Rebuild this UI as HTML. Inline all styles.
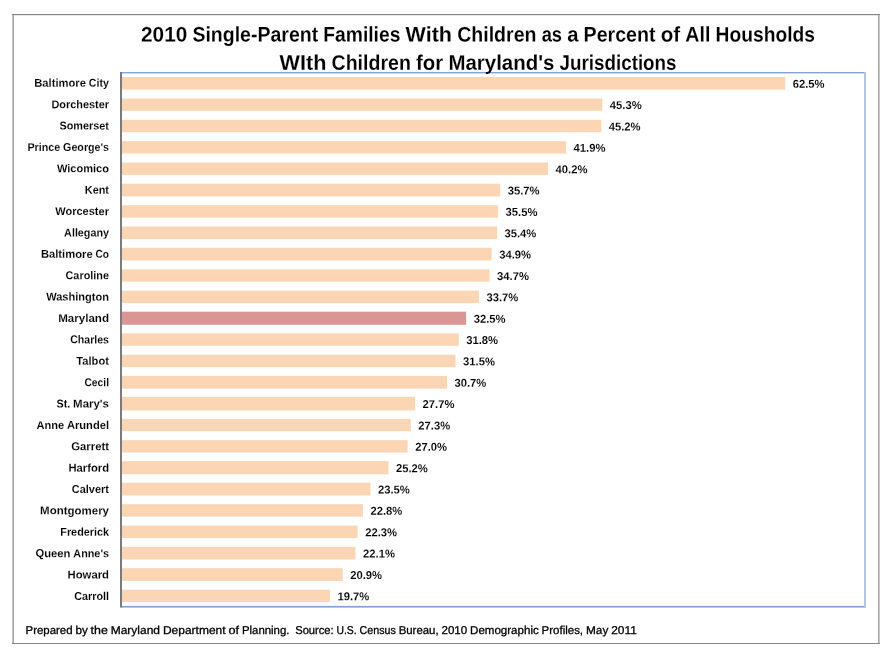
<!DOCTYPE html>
<html lang="en"><head><meta charset="utf-8"><title>2010 Single-Parent Families With Children</title>
<style>
html,body{margin:0;padding:0;background:#fff}
svg{display:block}
svg .ttl text{stroke:#fff;stroke-width:.25px}
svg .lab text{stroke:#fff;stroke-width:.1px}
svg .ftr text{stroke:#000;stroke-width:.3px}
svg text{font-family:"Liberation Sans",sans-serif;fill:#000;white-space:pre;text-rendering:geometricPrecision}
</style></head><body>
<svg width="892" height="652" viewBox="0 0 892 652" role="img" aria-label="Bar chart">
<rect x="0" y="0" width="892" height="652" fill="#fff"/>
<rect x="12" y="14" width="1" height="630" fill="#c4c4c4"/><rect x="13" y="14" width="1" height="630" fill="#a8a8a8"/><rect x="878" y="14" width="1" height="630" fill="#a8a8a8"/><rect x="879" y="14" width="1" height="630" fill="#c8c8c8"/><rect x="14" y="15" width="864" height="1" fill="#e8e8e8"/><rect x="12" y="14" width="868" height="1" fill="#868686"/><rect x="12" y="643" width="868" height="1" fill="#868686"/>
<rect x="121" y="76.98" width="664.24" height="12.6" fill="#fcd5b5"/>
<rect x="121" y="98.49" width="481.29" height="12.3" fill="#fcd5b5"/>
<rect x="121" y="119.80" width="480.22" height="12.4" fill="#fcd5b5"/>
<rect x="121" y="141.20" width="445.12" height="12.3" fill="#fcd5b5"/>
<rect x="121" y="162.51" width="427.04" height="12.4" fill="#fcd5b5"/>
<rect x="121" y="183.72" width="379.17" height="12.7" fill="#fcd5b5"/>
<rect x="121" y="205.23" width="377.04" height="12.4" fill="#fcd5b5"/>
<rect x="121" y="226.44" width="375.98" height="12.7" fill="#fcd5b5"/>
<rect x="121" y="247.79" width="370.66" height="12.7" fill="#fcd5b5"/>
<rect x="121" y="269.40" width="368.53" height="12.2" fill="#fcd5b5"/>
<rect x="121" y="290.66" width="357.90" height="12.4" fill="#fcd5b5"/>
<rect x="121" y="311.67" width="345.13" height="13.1" fill="#d99694"/>
<rect x="121" y="333.37" width="337.69" height="12.4" fill="#fcd5b5"/>
<rect x="121" y="354.73" width="334.50" height="12.4" fill="#fcd5b5"/>
<rect x="121" y="375.89" width="325.99" height="12.8" fill="#fcd5b5"/>
<rect x="121" y="396.80" width="294.07" height="13.7" fill="#fcd5b5"/>
<rect x="121" y="418.86" width="289.82" height="12.3" fill="#fcd5b5"/>
<rect x="121" y="440.17" width="286.63" height="12.4" fill="#fcd5b5"/>
<rect x="121" y="461.17" width="267.48" height="13.1" fill="#fcd5b5"/>
<rect x="121" y="482.73" width="249.40" height="12.7" fill="#fcd5b5"/>
<rect x="121" y="504.19" width="241.95" height="12.5" fill="#fcd5b5"/>
<rect x="121" y="525.60" width="236.64" height="12.4" fill="#fcd5b5"/>
<rect x="121" y="546.80" width="234.51" height="12.7" fill="#fcd5b5"/>
<rect x="121" y="568.16" width="221.74" height="12.7" fill="#fcd5b5"/>
<rect x="121" y="589.67" width="208.98" height="12.4" fill="#fcd5b5"/>
<rect x="121" y="72" width="745" height="1.4" fill="#86a2cf"/>
<rect x="121" y="605.9" width="745" height="1.7" fill="#86a2cf"/>
<rect x="864" y="72" width="2" height="535.6" fill="#b4c5e2"/>
<rect x="120" y="72" width="2" height="535.5" fill="#7b7b7b"/>
<g class="lab">
<g transform="matrix(1 0.0003 0 1 0 0)">
<text font-size="11.41" font-weight="bold" transform="matrix(1 .001 0 1 0 0)"><tspan x="34.19" y="86.77" textLength="51.75" lengthAdjust="spacingAndGlyphs">Baltimore</tspan> <tspan x="88.80" y="86.73" textLength="20.20" lengthAdjust="spacingAndGlyphs">City</tspan></text>
<text x="792.74" y="86.77" font-size="11.41" font-weight="bold" transform="matrix(1 .001 0 1 0 0)" textLength="31.89" lengthAdjust="spacingAndGlyphs">62.5%</text>
<text x="51.38" y="108.13" font-size="11.41" font-weight="bold" transform="matrix(1 .001 0 1 0 0)" textLength="57.62" lengthAdjust="spacingAndGlyphs">Dorchester</text>
<text x="609.79" y="108.31" font-size="11.41" font-weight="bold" transform="matrix(1 .001 0 1 0 0)" textLength="31.89" lengthAdjust="spacingAndGlyphs">45.3%</text>
<text x="59.44" y="129.50" font-size="11.41" font-weight="bold" transform="matrix(1 .001 0 1 0 0)" textLength="49.56" lengthAdjust="spacingAndGlyphs">Somerset</text>
<text x="608.72" y="129.67" font-size="11.41" font-weight="bold" transform="matrix(1 .001 0 1 0 0)" textLength="31.89" lengthAdjust="spacingAndGlyphs">45.2%</text>
<text font-size="11.41" font-weight="bold" transform="matrix(1 .001 0 1 0 0)"><tspan x="27.44" y="150.92" textLength="32.83" lengthAdjust="spacingAndGlyphs">Prince</tspan> <tspan x="63.12" y="150.88" textLength="45.88" lengthAdjust="spacingAndGlyphs">George's</tspan></text>
<text x="573.62" y="151.06" font-size="11.41" font-weight="bold" transform="matrix(1 .001 0 1 0 0)" textLength="31.89" lengthAdjust="spacingAndGlyphs">41.9%</text>
<text x="56.89" y="172.26" font-size="11.41" font-weight="bold" transform="matrix(1 .001 0 1 0 0)" textLength="52.11" lengthAdjust="spacingAndGlyphs">Wicomico</text>
<text x="555.54" y="172.44" font-size="11.41" font-weight="bold" transform="matrix(1 .001 0 1 0 0)" textLength="31.89" lengthAdjust="spacingAndGlyphs">40.2%</text>
<text x="84.86" y="193.62" font-size="11.41" font-weight="bold" transform="matrix(1 .001 0 1 0 0)" textLength="24.14" lengthAdjust="spacingAndGlyphs">Kent</text>
<text x="507.67" y="193.85" font-size="11.41" font-weight="bold" transform="matrix(1 .001 0 1 0 0)" textLength="31.89" lengthAdjust="spacingAndGlyphs">35.7%</text>
<text x="55.17" y="215.01" font-size="11.41" font-weight="bold" transform="matrix(1 .001 0 1 0 0)" textLength="53.83" lengthAdjust="spacingAndGlyphs">Worcester</text>
<text x="505.54" y="215.21" font-size="11.41" font-weight="bold" transform="matrix(1 .001 0 1 0 0)" textLength="31.89" lengthAdjust="spacingAndGlyphs">35.5%</text>
<text x="64.12" y="236.39" font-size="11.41" font-weight="bold" transform="matrix(1 .001 0 1 0 0)" textLength="44.88" lengthAdjust="spacingAndGlyphs">Allegany</text>
<text x="504.48" y="236.56" font-size="11.41" font-weight="bold" transform="matrix(1 .001 0 1 0 0)" textLength="31.89" lengthAdjust="spacingAndGlyphs">35.4%</text>
<text font-size="11.41" font-weight="bold" transform="matrix(1 .001 0 1 0 0)"><tspan x="40.88" y="257.79" textLength="51.75" lengthAdjust="spacingAndGlyphs">Baltimore</tspan> <tspan x="95.48" y="257.75" textLength="13.52" lengthAdjust="spacingAndGlyphs">Co</tspan></text>
<text x="499.16" y="257.93" font-size="11.41" font-weight="bold" transform="matrix(1 .001 0 1 0 0)" textLength="31.89" lengthAdjust="spacingAndGlyphs">34.9%</text>
<text x="65.50" y="279.14" font-size="11.41" font-weight="bold" transform="matrix(1 .001 0 1 0 0)" textLength="43.50" lengthAdjust="spacingAndGlyphs">Caroline</text>
<text x="497.03" y="279.29" font-size="11.41" font-weight="bold" transform="matrix(1 .001 0 1 0 0)" textLength="31.89" lengthAdjust="spacingAndGlyphs">34.7%</text>
<text x="46.16" y="300.53" font-size="11.41" font-weight="bold" transform="matrix(1 .001 0 1 0 0)" textLength="62.84" lengthAdjust="spacingAndGlyphs">Washington</text>
<text x="486.40" y="300.66" font-size="11.41" font-weight="bold" transform="matrix(1 .001 0 1 0 0)" textLength="31.89" lengthAdjust="spacingAndGlyphs">33.7%</text>
<text x="58.16" y="321.90" font-size="11.41" font-weight="bold" transform="matrix(1 .001 0 1 0 0)" textLength="50.84" lengthAdjust="spacingAndGlyphs">Maryland</text>
<text x="473.63" y="322.03" font-size="11.41" font-weight="bold" transform="matrix(1 .001 0 1 0 0)" textLength="31.89" lengthAdjust="spacingAndGlyphs">32.5%</text>
<text x="70.20" y="343.28" font-size="11.41" font-weight="bold" transform="matrix(1 .001 0 1 0 0)" textLength="38.80" lengthAdjust="spacingAndGlyphs">Charles</text>
<text x="466.19" y="343.39" font-size="11.41" font-weight="bold" transform="matrix(1 .001 0 1 0 0)" textLength="31.89" lengthAdjust="spacingAndGlyphs">31.8%</text>
<text x="76.31" y="364.65" font-size="11.41" font-weight="bold" transform="matrix(1 .001 0 1 0 0)" textLength="32.69" lengthAdjust="spacingAndGlyphs">Talbot</text>
<text x="463.00" y="364.75" font-size="11.41" font-weight="bold" transform="matrix(1 .001 0 1 0 0)" textLength="31.89" lengthAdjust="spacingAndGlyphs">31.5%</text>
<text x="84.41" y="386.02" font-size="11.41" font-weight="bold" transform="matrix(1 .001 0 1 0 0)" textLength="24.59" lengthAdjust="spacingAndGlyphs">Cecil</text>
<text x="454.49" y="386.12" font-size="11.41" font-weight="bold" transform="matrix(1 .001 0 1 0 0)" textLength="31.89" lengthAdjust="spacingAndGlyphs">30.7%</text>
<text font-size="11.41" font-weight="bold" transform="matrix(1 .001 0 1 0 0)"><tspan x="56.47" y="407.44" textLength="13.77" lengthAdjust="spacingAndGlyphs">St.</tspan> <tspan x="73.09" y="407.41" textLength="35.91" lengthAdjust="spacingAndGlyphs">Mary's</tspan></text>
<text x="422.57" y="407.51" font-size="11.41" font-weight="bold" transform="matrix(1 .001 0 1 0 0)" textLength="31.89" lengthAdjust="spacingAndGlyphs">27.7%</text>
<text font-size="11.41" font-weight="bold" transform="matrix(1 .001 0 1 0 0)"><tspan x="36.45" y="428.83" textLength="27.64" lengthAdjust="spacingAndGlyphs">Anne</tspan> <tspan x="66.95" y="428.79" textLength="42.05" lengthAdjust="spacingAndGlyphs">Arundel</tspan></text>
<text x="418.32" y="428.87" font-size="11.41" font-weight="bold" transform="matrix(1 .001 0 1 0 0)" textLength="31.89" lengthAdjust="spacingAndGlyphs">27.3%</text>
<text x="71.22" y="450.16" font-size="11.41" font-weight="bold" transform="matrix(1 .001 0 1 0 0)" textLength="37.78" lengthAdjust="spacingAndGlyphs">Garrett</text>
<text x="415.13" y="450.23" font-size="11.41" font-weight="bold" transform="matrix(1 .001 0 1 0 0)" textLength="31.89" lengthAdjust="spacingAndGlyphs">27.0%</text>
<text x="68.47" y="471.54" font-size="11.41" font-weight="bold" transform="matrix(1 .001 0 1 0 0)" textLength="40.53" lengthAdjust="spacingAndGlyphs">Harford</text>
<text x="395.98" y="471.61" font-size="11.41" font-weight="bold" transform="matrix(1 .001 0 1 0 0)" textLength="31.89" lengthAdjust="spacingAndGlyphs">25.2%</text>
<text x="71.80" y="492.92" font-size="11.41" font-weight="bold" transform="matrix(1 .001 0 1 0 0)" textLength="37.20" lengthAdjust="spacingAndGlyphs">Calvert</text>
<text x="377.90" y="492.99" font-size="11.41" font-weight="bold" transform="matrix(1 .001 0 1 0 0)" textLength="31.89" lengthAdjust="spacingAndGlyphs">23.5%</text>
<text x="40.09" y="514.31" font-size="11.41" font-weight="bold" transform="matrix(1 .001 0 1 0 0)" textLength="68.91" lengthAdjust="spacingAndGlyphs">Montgomery</text>
<text x="370.45" y="514.35" font-size="11.41" font-weight="bold" transform="matrix(1 .001 0 1 0 0)" textLength="31.89" lengthAdjust="spacingAndGlyphs">22.8%</text>
<text x="60.30" y="535.68" font-size="11.41" font-weight="bold" transform="matrix(1 .001 0 1 0 0)" textLength="48.70" lengthAdjust="spacingAndGlyphs">Frederick</text>
<text x="365.14" y="535.72" font-size="11.41" font-weight="bold" transform="matrix(1 .001 0 1 0 0)" textLength="31.89" lengthAdjust="spacingAndGlyphs">22.3%</text>
<text font-size="11.41" font-weight="bold" transform="matrix(1 .001 0 1 0 0)"><tspan x="35.45" y="557.09" textLength="35.03" lengthAdjust="spacingAndGlyphs">Queen</tspan> <tspan x="73.34" y="557.05" textLength="35.66" lengthAdjust="spacingAndGlyphs">Anne's</tspan></text>
<text x="363.01" y="557.08" font-size="11.41" font-weight="bold" transform="matrix(1 .001 0 1 0 0)" textLength="31.89" lengthAdjust="spacingAndGlyphs">22.1%</text>
<text x="67.53" y="578.43" font-size="11.41" font-weight="bold" transform="matrix(1 .001 0 1 0 0)" textLength="41.47" lengthAdjust="spacingAndGlyphs">Howard</text>
<text x="350.24" y="578.45" font-size="11.41" font-weight="bold" transform="matrix(1 .001 0 1 0 0)" textLength="31.89" lengthAdjust="spacingAndGlyphs">20.9%</text>
<text x="74.17" y="599.81" font-size="11.41" font-weight="bold" transform="matrix(1 .001 0 1 0 0)" textLength="34.83" lengthAdjust="spacingAndGlyphs">Carroll</text>
<text x="337.48" y="599.82" font-size="11.41" font-weight="bold" transform="matrix(1 .001 0 1 0 0)" textLength="31.89" lengthAdjust="spacingAndGlyphs">19.7%</text>
</g>
<g class="ttl">
<text font-size="21.00" font-weight="bold" transform="matrix(1 .001 0 1 0 0)"><tspan x="141.02" y="41.34" textLength="46.25" lengthAdjust="spacingAndGlyphs">2010</tspan> <tspan x="192.43" y="41.24" textLength="125.73" lengthAdjust="spacingAndGlyphs">Single-Parent</tspan> <tspan x="323.32" y="41.14" textLength="77.08" lengthAdjust="spacingAndGlyphs">Families</tspan> <tspan x="405.55" y="41.07" textLength="46.42" lengthAdjust="spacingAndGlyphs">With</tspan> <tspan x="457.13" y="41.00" textLength="79.34" lengthAdjust="spacingAndGlyphs">Children</tspan> <tspan x="541.63" y="40.95" textLength="20.36" lengthAdjust="spacingAndGlyphs">as</tspan> <tspan x="567.15" y="40.93" textLength="11.27" lengthAdjust="spacingAndGlyphs">a</tspan> <tspan x="583.57" y="40.88" textLength="71.98" lengthAdjust="spacingAndGlyphs">Percent</tspan> <tspan x="660.71" y="40.83" textLength="19.48" lengthAdjust="spacingAndGlyphs">of</tspan> <tspan x="685.35" y="40.80" textLength="25.05" lengthAdjust="spacingAndGlyphs">All</tspan> <tspan x="715.55" y="40.73" textLength="99.42" lengthAdjust="spacingAndGlyphs">Housholds</tspan></text>
<text font-size="21.00" font-weight="bold" transform="matrix(1 .001 0 1 0 0)"><tspan x="279.48" y="69.50" textLength="46.89" lengthAdjust="spacingAndGlyphs">WIth</tspan> <tspan x="331.53" y="69.43" textLength="79.34" lengthAdjust="spacingAndGlyphs">Children</tspan> <tspan x="416.03" y="69.37" textLength="27.25" lengthAdjust="spacingAndGlyphs">for</tspan> <tspan x="448.44" y="69.30" textLength="105.98" lengthAdjust="spacingAndGlyphs">Maryland's</tspan> <tspan x="559.58" y="69.18" textLength="116.94" lengthAdjust="spacingAndGlyphs">Jurisdictions</tspan></text>
</g>
<g class="ftr">
<text font-size="11.41"><tspan x="25.50" y="634.00" textLength="47.05" lengthAdjust="spacingAndGlyphs">Prepared</tspan> <tspan x="75.41" y="634.00" textLength="12.33" lengthAdjust="spacingAndGlyphs">by</tspan> <tspan x="90.59" y="634.00" textLength="17.22" lengthAdjust="spacingAndGlyphs">the</tspan> <tspan x="110.67" y="634.00" textLength="49.39" lengthAdjust="spacingAndGlyphs">Maryland</tspan> <tspan x="162.92" y="634.00" textLength="62.72" lengthAdjust="spacingAndGlyphs">Department</tspan> <tspan x="228.50" y="634.00" textLength="10.55" lengthAdjust="spacingAndGlyphs">of</tspan> <tspan x="241.91" y="634.00" textLength="47.56" lengthAdjust="spacingAndGlyphs">Planning.</tspan>  <tspan x="295.19" y="634.00" textLength="38.47" lengthAdjust="spacingAndGlyphs">Source:</tspan> <tspan x="336.52" y="634.00" textLength="20.14" lengthAdjust="spacingAndGlyphs">U.S.</tspan> <tspan x="359.52" y="634.00" textLength="36.28" lengthAdjust="spacingAndGlyphs">Census</tspan> <tspan x="398.66" y="634.00" textLength="39.98" lengthAdjust="spacingAndGlyphs">Bureau,</tspan> <tspan x="441.50" y="634.00" textLength="25.69" lengthAdjust="spacingAndGlyphs">2010</tspan> <tspan x="470.05" y="634.00" textLength="68.69" lengthAdjust="spacingAndGlyphs">Demographic</tspan> <tspan x="541.59" y="634.00" textLength="41.48" lengthAdjust="spacingAndGlyphs">Profiles,</tspan> <tspan x="585.94" y="634.00" textLength="22.39" lengthAdjust="spacingAndGlyphs">May</tspan> <tspan x="611.19" y="634.00" textLength="25.69" lengthAdjust="spacingAndGlyphs">2011</tspan></text>
</g>
</svg>
</body></html>
